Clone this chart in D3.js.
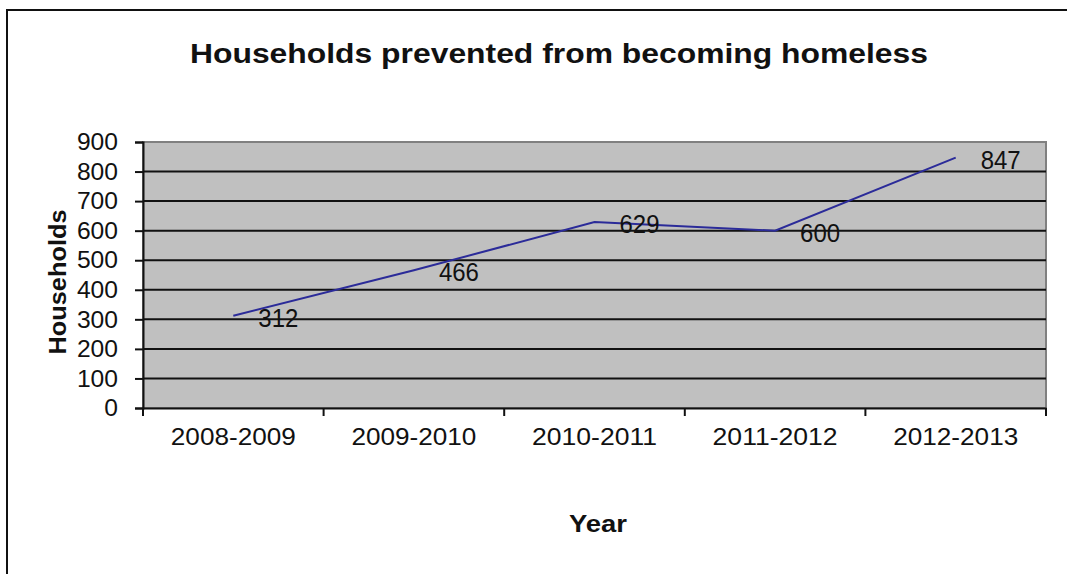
<!DOCTYPE html>
<html lang="en">
<head>
    <meta charset="UTF-8">
    <script src="https://d3js.org/d3.v7.min.js"></script>
    <title>Households prevented from becoming homeless</title>
    <style>
        body { margin: 0; background: #fff; }
        text { font-family: "Liberation Sans", Arial, sans-serif; }
    </style>
</head>
<body>
    <div id="chart"></div>
    <script>
        var years = ["2008-2009", "2009-2010", "2010-2011", "2011-2012", "2012-2013"];
        var households = [312, 466, 629, 600, 847];
        var yTicks = [0, 100, 200, 300, 400, 500, 600, 700, 800, 900];

        var width = 1067;
        var height = 574;
        var margin = {top: 142, right: 21, bottom: 166, left: 143};

        var svg = d3.select('#chart')
                    .append('svg')
                    .attr('width', width)
                    .attr('height', height);

        // outer frame (cropped on right and bottom)
        svg.append('rect')
           .attr('x', 7).attr('y', 10)
           .attr('width', 1080).attr('height', 600)
           .attr('fill', 'white')
           .attr('stroke', '#111')
           .attr('stroke-width', 2);

        var x = d3.scaleBand()
                  .domain(years)
                  .range([margin.left, width - margin.right]);
        var y = d3.scaleLinear()
                  .domain([0, 900])
                  .range([height - margin.bottom, margin.top]);

        // plot background
        svg.append('rect')
           .attr('x', margin.left).attr('y', margin.top)
           .attr('width', width - margin.right - margin.left)
           .attr('height', height - margin.bottom - margin.top)
           .attr('fill', '#c0c0c0')
           .attr('stroke', '#808080')
           .attr('stroke-width', 2);

        // gridlines
        svg.append('g')
           .selectAll('line')
           .data(yTicks.filter(d => d > 0 && d < 900))
           .enter()
           .append('line')
           .attr('x1', margin.left).attr('x2', width - margin.right)
           .attr('y1', d => y(d)).attr('y2', d => y(d))
           .attr('stroke', '#111')
           .attr('stroke-width', 2);

        var yAxis = svg.append('g')
                       .attr('transform', `translate(${margin.left},0)`)
                       .call(d3.axisLeft(y).tickValues(yTicks).tickSize(8).tickPadding(17));
        var xAxis = svg.append('g')
                       .attr('transform', `translate(0,${height - margin.bottom})`)
                       .call(d3.axisBottom(x).tickSize(0).tickPadding(20));

        // x tick marks at band boundaries
        xAxis.selectAll('.bound')
             .data(years.concat(['end']))
             .enter()
             .append('line')
             .attr('x1', (d, i) => margin.left + i * x.step())
             .attr('x2', (d, i) => margin.left + i * x.step())
             .attr('y1', 0).attr('y2', 8)
             .attr('stroke', '#111')
             .attr('stroke-width', 2);

        [yAxis, xAxis].forEach(a => {
            a.select('.domain').attr('stroke', '#111').attr('stroke-width', 2);
            a.selectAll('.tick line').attr('stroke', '#111').attr('stroke-width', 2);
            a.selectAll('.tick text')
             .attr('font-size', 24)
             .attr('fill', '#111')
             .attr('font-family', '"Liberation Sans", Arial, sans-serif');
        });
        yAxis.selectAll('.tick text').attr('textLength', d => String(d).length * 13.7)
             .attr('lengthAdjust', 'spacingAndGlyphs');
        xAxis.selectAll('.tick text').attr('textLength', 125)
             .attr('lengthAdjust', 'spacingAndGlyphs');

        var line = d3.line()
                     .x((d, i) => x(years[i]) + x.bandwidth() / 2)
                     .y(d => y(d));

        svg.append('path')
           .datum(households)
           .attr('d', line)
           .attr('fill', 'none')
           .attr('stroke', '#2b2b99')
           .attr('stroke-width', 2);

        svg.append('g')
           .selectAll('text')
           .data(households)
           .enter()
           .append('text')
           .attr('x', (d, i) => x(years[i]) + x.bandwidth() / 2 + 25)
           .attr('y', d => y(d) + 11)
           .attr('font-size', 26)
           .attr('textLength', 40)
           .attr('lengthAdjust', 'spacingAndGlyphs')
           .attr('fill', '#111')
           .text(d => d);

        svg.append('text')
           .attr('x', 559).attr('y', 63)
           .attr('text-anchor', 'middle')
           .attr('font-size', 27)
           .attr('font-weight', 'bold')
           .attr('textLength', 738)
           .attr('lengthAdjust', 'spacingAndGlyphs')
           .attr('fill', '#111')
           .text('Households prevented from becoming homeless');

        svg.append('text')
           .attr('transform', 'translate(66,282) rotate(-90)')
           .attr('text-anchor', 'middle')
           .attr('font-size', 23)
           .attr('font-weight', 'bold')
           .attr('textLength', 145)
           .attr('lengthAdjust', 'spacingAndGlyphs')
           .attr('fill', '#111')
           .text('Households');

        svg.append('text')
           .attr('x', 598).attr('y', 532)
           .attr('text-anchor', 'middle')
           .attr('font-size', 23)
           .attr('font-weight', 'bold')
           .attr('textLength', 58)
           .attr('lengthAdjust', 'spacingAndGlyphs')
           .attr('fill', '#111')
           .text('Year');
    </script>
</body>
</html>
